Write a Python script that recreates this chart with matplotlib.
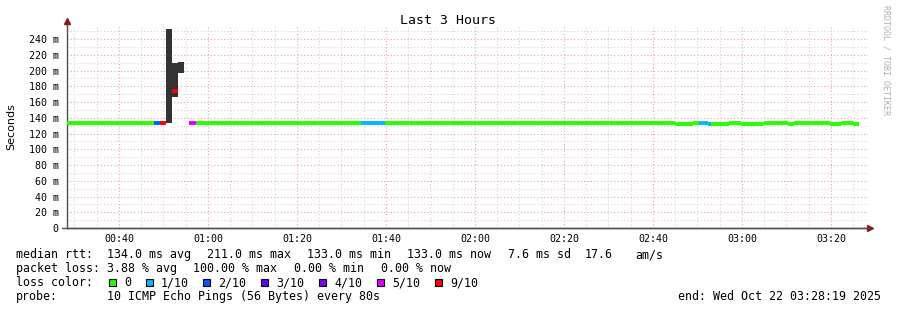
import numpy as np
import matplotlib
matplotlib.use("Agg")
import matplotlib.pyplot as plt
import matplotlib.patches as patches

W, H = 897, 310
MONO = 'DejaVu Sans Mono'

# time axis in minutes after midnight, 00:28:19 .. 03:28:19
t_start = 28 + 19 / 60
t_end = 208 + 19 / 60

# median rtt segments (ms); nan = no median drawn
seg_edges = [t_start, 47.87, 49.22, 50.57, 51.91, 53.26, 54.61, 55.74, 57.31, 94.39,
             99.78, 159.8, 161.1, 164.96, 169.0, 170.3, 172.3, 173.0, 177.1, 179.8,
             184.95, 186.3, 189.0, 190.3, 191.7, 193.0, 195.7, 199.8, 202.3, 204.95, 206.3]
seg_median = [133, 133, 133, np.nan, 174, np.nan, np.nan, 133, 133, 133,
              133, 134, 133, 132, 133, 133, 132, 132, 133, 132,
              133, 134, 133, 132, 133, 134, 133, 132, 133, 132]
seg_loss = [0, 2, 9, 10, 9, 10, 10, 5, 0, 1,
            0, 0, 0, 0, 0, 1, 1, 0, 0, 0,
            0, 0, 0, 0, 0, 0, 0, 0, 0, 0]

# smoke (ping spread) around the loss spike
smoke_from = [50.57, 51.91, 53.26]
smoke_to = [51.91, 53.26, 54.61]
smoke_lo = [133, 167, 197]
smoke_hi = [253, 210, 211]

loss_levels = [0, 1, 2, 3, 4, 5, 9]
loss_labels = ['0', '1/10', '2/10', '3/10', '4/10', '5/10', '9/10']
loss_colors = ['#26ff00', '#00b8ff', '#0059ff', '#5e00ff', '#7e00ff', '#dd00ff', '#ff0000']

xtick_pos = [40, 60, 80, 100, 120, 140, 160, 180, 200]
xtick_labels = ['00:40', '01:00', '01:20', '01:40', '02:00', '02:20', '02:40', '03:00', '03:20']
ytick_pos = list(range(0, 260, 20))
ytick_labels = ['0'] + ['%d m' % v for v in ytick_pos[1:]]

fig = plt.figure(figsize=(W / 100, H / 100), dpi=100)
ax = fig.add_axes([67 / W, 82 / H, 801 / W, 202 / H])
ax.set_xlim(t_start, t_end)
ax.set_ylim(0, 256.7)

# smoke bars
ax.bar(smoke_from, np.array(smoke_hi) - np.array(smoke_lo), bottom=smoke_lo,
       width=np.array(smoke_to) - np.array(smoke_from), align='edge',
       color='#333333', linewidth=0, zorder=2)

# median line coloured by loss
color_of = dict(zip(loss_levels, loss_colors))
for i, m in enumerate(seg_median):
    if np.isnan(m):
        continue
    ax.hlines(m, seg_edges[i], seg_edges[i + 1], colors=color_of[seg_loss[i]],
              linewidth=2.8, capstyle='butt', zorder=3)

# axes and grid
ax.set_xticks(xtick_pos)
ax.set_xticklabels(xtick_labels, family=MONO, fontsize=7.2)
ax.set_xticks(np.arange(30, 210, 5), minor=True)
ax.set_yticks(ytick_pos)
ax.set_yticklabels(ytick_labels, family=MONO, fontsize=7.2)
ax.set_yticks(np.arange(0, 256, 10), minor=True)
ax.tick_params(which='both', length=0)
ax.tick_params(axis='y', pad=6)
ax.tick_params(axis='x', pad=4)
ax.grid(which='minor', color='#d4d4d4', linestyle=(0, (1, 2)), linewidth=0.8)
ax.grid(which='major', color='#f2a0a0', linestyle=(0, (1, 2)), linewidth=0.8)
ax.set_axisbelow(True)
for s in ['top', 'right']:
    ax.spines[s].set_visible(False)
for s in ['left', 'bottom']:
    ax.spines[s].set_color('#505050')
    ax.spines[s].set_linewidth(1.0)
ax.plot([0, 0], [1, 1.02], transform=ax.transAxes, color='#505050', lw=1, clip_on=False)
ax.plot([-0.006, 1.003], [0, 0], transform=ax.transAxes, color='#505050', lw=1, clip_on=False)
ax.plot([0], [1.025], marker='^', transform=ax.transAxes, color='#8b1a1a', markersize=4, clip_on=False)
ax.plot([1.003], [0], marker='>', transform=ax.transAxes, color='#8b1a1a', markersize=4, clip_on=False)

ax.set_ylabel('Seconds', family='DejaVu Sans', fontsize=8)
ax.yaxis.set_label_coords(-51 / 801, 0.5)

fig.text(448 / W, 1 - 20 / H, 'Last 3 Hours', family=MONO, fontsize=9.5, ha='center', va='center')
fig.text(886 / W, 1 - 5 / H, 'RRDTOOL / TOBI OETIKER', family=MONO, fontsize=6,
         color='#b0b0b0', rotation=-90, ha='center', va='top')

# legend block
fs = 8.35
def put(x, y, s, **kw):
    fig.text(x / W, 1 - y / H, s, family=MONO, fontsize=fs, va='center', **kw)

row1 = [(16, 'median rtt:'), (107, '134.0 ms avg'), (207, '211.0 ms max'), (307, '133.0 ms min'),
        (407, '133.0 ms now'), (508, '7.6 ms sd'), (585, '17.6'), (635, 'am/s')]
row2 = [(16, 'packet loss:'), (107, '3.88 % avg'), (193, '100.00 % max'), (294, '0.00 % min'),
        (381, '0.00 % now')]
for x, s in row1:
    put(x, 254.5, s)
for x, s in row2:
    put(x, 268.5, s)

put(16, 282.5, 'loss color:')
box_x = [109, 146, 203, 261, 319, 377, 435]
for bx, lab, col in zip(box_x, loss_labels, loss_colors):
    fig.add_artist(patches.Rectangle((bx / W, 1 - 286 / H), 7 / W, 7 / H, transform=fig.transFigure,
                                     facecolor=col, edgecolor='black', linewidth=0.8))
    put(bx + 15, 282.5, lab)

put(16, 296.5, 'probe:')
put(107, 296.5, '10 ICMP Echo Pings (56 Bytes) every 80s')
put(881, 296.5, 'end: Wed Oct 22 03:28:19 2025', ha='right')

fig.savefig('out.png', dpi=100, facecolor='white')
